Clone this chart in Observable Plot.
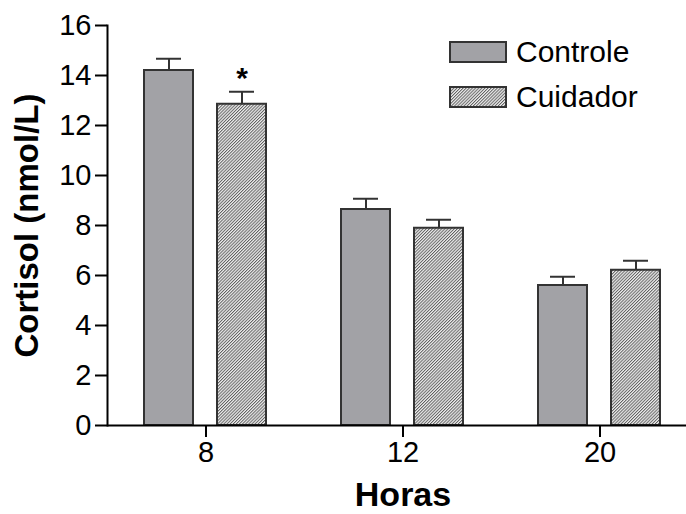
<!DOCTYPE html>
<html>
<head>
<meta charset="utf-8">
<script src="https://cdn.jsdelivr.net/npm/d3@7"></script>
<script src="https://cdn.jsdelivr.net/npm/@observablehq/plot@0.6"></script>
<style>
  html, body { margin: 0; padding: 0; background: #fff; }
  #wrap { position: relative; width: 686px; height: 514px; font-family: "Liberation Sans", Arial, sans-serif; }
  #wrap svg text { fill: #000; }
  #legend { position: absolute; left: 449px; top: 41px; }
  .item { display: flex; align-items: center; height: 22px; margin-bottom: 23px; font-size: 30px; color: #000; }
  .item svg { margin-right: 9px; }
</style>
</head>
<body>
<div id="wrap"><div id="legend"></div></div>
<script>
const horas = ["8", "12", "20"];
const grupos = ["Controle", "Cuidador"];
const controleMedia = [14.2, 8.64, 5.6];
const controleErro = [0.47, 0.43, 0.35];
const cuidadorMedia = [12.85, 7.89, 6.21];
const cuidadorErro = [0.5, 0.34, 0.38];
const yTicks = [0, 2, 4, 6, 8, 10, 12, 14, 16];
const yTitulo = "Cortisol (nmol/L)";
const xTitulo = "Horas";
const marcas = [{hora: "8", grupo: "Cuidador", texto: "*"}];

const data = [];
horas.forEach((h, i) => {
  data.push({hora: h, grupo: "Controle", media: controleMedia[i], erro: controleErro[i]});
  data.push({hora: h, grupo: "Cuidador", media: cuidadorMedia[i], erro: cuidadorErro[i]});
});
const topo = d => d.media + d.erro;
const sig = marcas.map(m => {
  const d = data.find(r => r.hora === m.hora && r.grupo === m.grupo);
  return {...m, y: topo(d)};
});

const fills = ["#a2a2a6", "url(#hatch)"];

const chart = Plot.plot({
  width: 686,
  height: 514,
  marginLeft: 107,
  marginTop: 25,
  marginBottom: 89,
  marginRight: 0,
  style: {fontFamily: "'Liberation Sans', Arial, sans-serif", fontSize: "28px", background: "#fff", overflow: "visible"},
  fx: {domain: horas, padding: 0, range: [106.25, 698.75]},
  x: {domain: grupos, paddingInner: 0.324, paddingOuter: 0.496, axis: null},
  y: {domain: [0, 16]},
  color: {domain: grupos, range: fills},
  marks: [
    Plot.ruleX(data, {fx: "hora", x: "grupo", y1: "media", y2: topo, stroke: "#333", strokeWidth: 2}),
    Plot.tickY(data, {fx: "hora", x: "grupo", y: topo, insetLeft: 12, insetRight: 12, stroke: "#333", strokeWidth: 2}),
    Plot.barY(data, {fx: "hora", x: "grupo", y: "media", fill: "grupo", stroke: "#333", strokeWidth: 2}),
    Plot.text(sig, {fx: "hora", x: "grupo", y: "y", text: "texto", dy: -4, lineAnchor: "bottom", fontSize: 30, fontWeight: "bold"}),
    Plot.ruleY([0], {stroke: "#000", strokeWidth: 2}),
    Plot.frame({anchor: "left", facetAnchor: "left", stroke: "#000", strokeWidth: 2}),
    Plot.axisY({ticks: yTicks, tickSize: 12, tickPadding: 4, fontSize: 29, strokeWidth: 2, stroke: "#000",
      label: yTitulo, labelArrow: "none", labelAnchor: "center", labelOffset: 93}),
    Plot.axisFx({anchor: "bottom", tickSize: 12, tickPadding: 4, fontSize: 29, strokeWidth: 2, stroke: "#000",
      label: xTitulo, labelArrow: "none", labelAnchor: "center", labelOffset: 80})
  ]
});

const tickStrings = yTicks.map(String).concat(horas);
chart.querySelectorAll("text").forEach(t => {
  const s = t.textContent.replace(/[\u2190-\u2193]/g, "").trim();
  if (tickStrings.includes(s)) {
    t.style.fontSize = "29px";
    t.style.fontFamily = "'Liberation Sans Narrow', 'Liberation Sans', Arial, sans-serif";
  } else if (s === yTitulo) {
    t.textContent = s;
    t.style.fontSize = "33px"; t.style.fontWeight = "bold";
  } else if (s === xTitulo) {
    t.textContent = s;
    t.style.fontSize = "34px"; t.style.fontWeight = "bold";
  }
});

const defs = document.createElementNS("http://www.w3.org/2000/svg", "defs");
defs.innerHTML = '<pattern id="hatch" patternUnits="userSpaceOnUse" width="2.2" height="2.2" patternTransform="rotate(45)">' +
  '<rect width="2.2" height="2.2" fill="#efefef"/><line x1="0.5" y1="0" x2="0.5" y2="2.2" stroke="#555" stroke-width="0.9"/></pattern>';
chart.insertBefore(defs, chart.firstChild);
document.getElementById("wrap").insertBefore(chart, document.getElementById("legend"));

const legend = document.getElementById("legend");
grupos.forEach((g, i) => {
  const div = document.createElement("div");
  div.className = "item";
  div.innerHTML = `<svg width="58" height="22"><rect x="1" y="1" width="56" height="20" fill="${fills[i]}" stroke="#333" stroke-width="2"/></svg><span>${g}</span>`;
  legend.appendChild(div);
});
</script>
</body>
</html>
